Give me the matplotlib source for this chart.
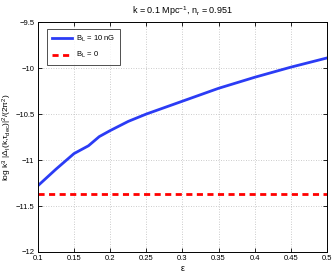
import numpy as np
import matplotlib
matplotlib.use('Agg')
import matplotlib.pyplot as plt

plt.rcParams['font.family'] = ['Liberation Sans', 'DejaVu Sans']
plt.rcParams['mathtext.fontset'] = 'custom'
plt.rcParams['mathtext.rm'] = 'Liberation Sans'
plt.rcParams['mathtext.it'] = 'Liberation Sans'

eps = [0.1, 0.125, 0.15, 0.17, 0.185, 0.2, 0.225, 0.25, 0.3, 0.35, 0.4, 0.45, 0.5]
power_B10 = [-11.28, -11.1, -10.93, -10.845, -10.745, -10.68, -10.58, -10.5,
             -10.36, -10.22, -10.1, -9.99, -9.89]
eps_flat = [0.1, 0.5]
power_B0 = [-11.37, -11.37]

xticks = [0.1, 0.15, 0.2, 0.25, 0.3, 0.35, 0.4, 0.45, 0.5]
xticklabels = ['0.1', '0.15', '0.2', '0.25', '0.3', '0.35', '0.4', '0.45', '0.5']
yticks = [-12, -11.5, -11, -10.5, -10, -9.5]
yticklabels = ['\u221212', '\u221211.5', '\u221211', '\u221210.5', '\u221210', '\u22129.5']

fig = plt.figure(figsize=(3.35, 2.73), dpi=100)
ax = fig.add_axes([0.113, 0.077, 0.863, 0.842])

ax.plot(eps, power_B10, color='#2b3cf5', lw=2.0, label='B$_\\mathrm{L}$ = 10 nG')
ax.plot(eps_flat, power_B0, color='#ff0000', lw=2.0, ls=(0, (2.2, 1.6)), label='B$_\\mathrm{L}$ = 0')

ax.set_xlim(0.1, 0.5)
ax.set_ylim(-12, -9.5)
ax.set_xticks(xticks)
ax.set_xticklabels(xticklabels)
ax.set_yticks(yticks)
ax.set_yticklabels(yticklabels)
ax.tick_params(direction='in', labelsize=5.5, length=3, width=0.6, top=True, right=True, pad=1.5)
ax.tick_params(axis='x', pad=2.5)
ax.tick_params(axis='y', pad=2.5)
ax.grid(True, ls=(0, (1, 2)), color='#bbbbbb', lw=0.6)
for s in ax.spines.values():
    s.set_linewidth(0.7)

ax.set_title('k = 0.1 Mpc$^{-1}$, n$_\\mathrm{r}$ = 0.951', fontsize=6.5, pad=6)
ax.set_xlabel('\u03b5', fontsize=6.5, labelpad=1)
ax.set_ylabel('log k$^3$ |\u0394$_\\mathrm{I}$(k,\u03c4$_\\mathrm{dec}$)|$^2$/(2\u03c0$^2$)', fontsize=6, labelpad=1)

leg = ax.legend(loc='upper left', fontsize=5.5, frameon=True, fancybox=False,
                edgecolor='black', handlelength=2.6, handletextpad=0.5, borderpad=0.6,
                labelspacing=0.8, bbox_to_anchor=(0.02, 0.985))
leg.get_frame().set_linewidth(0.6)

fig.savefig('out.png', dpi=100)
